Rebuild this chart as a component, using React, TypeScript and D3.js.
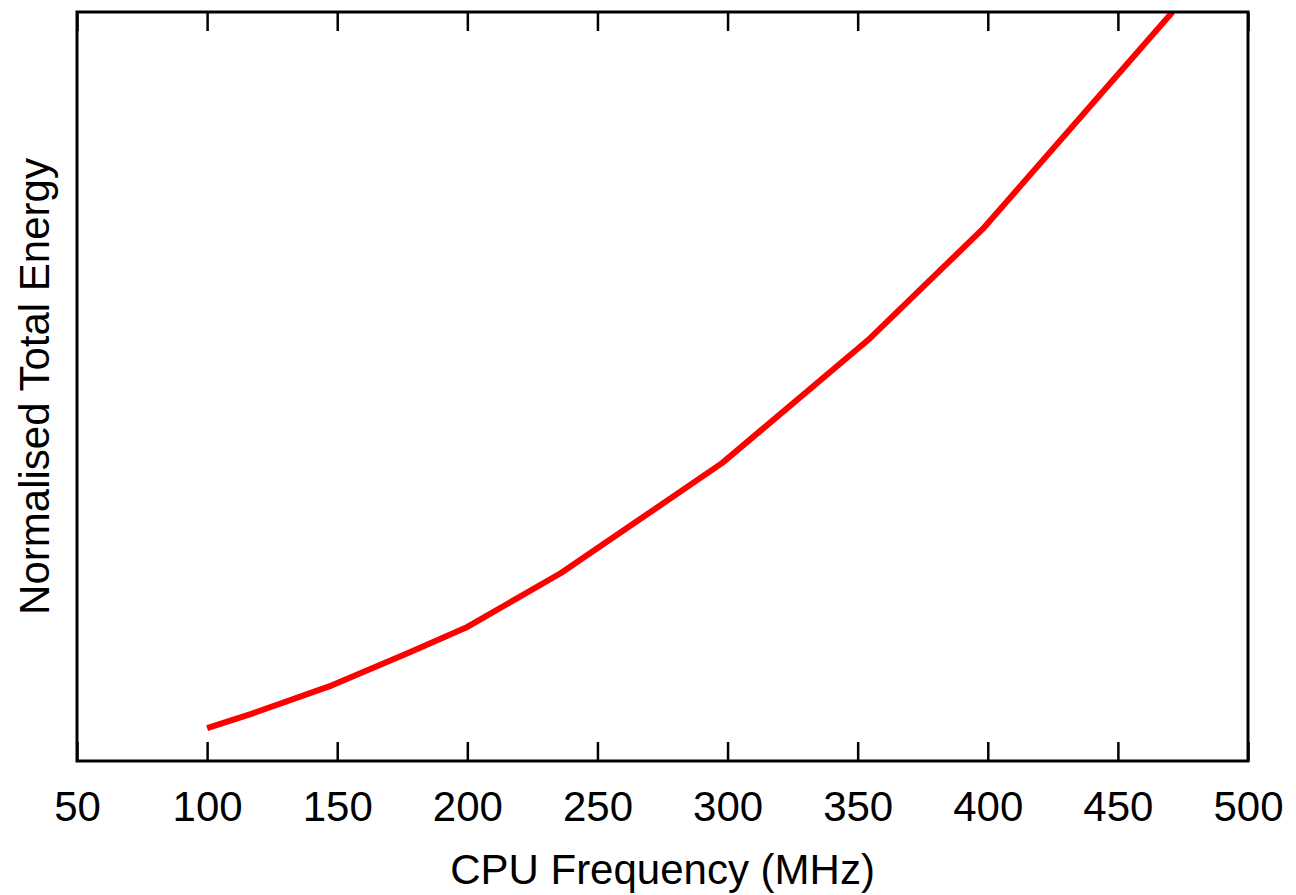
import React, { useEffect, useRef } from "react";
import * as d3 from "d3";

// frequency (MHz) and normalised energy
const freqs = [100, 117, 148, 177, 200, 236, 266, 298, 354, 398, 471];
const energy = [0.044, 0.063, 0.101, 0.144, 0.179, 0.251, 0.322, 0.398, 0.562, 0.71, 1.0];
const xTicks = [50, 100, 150, 200, 250, 300, 350, 400, 450, 500];

const W = 1296;
const H = 895;
const margin = { top: 12, right: 48, bottom: 134, left: 77 };

const App = () => {
  const ref = useRef<SVGSVGElement>(null);

  useEffect(() => {
    const svg = d3.select(ref.current);
    svg.selectAll("*").remove();

    const width = W - margin.left - margin.right;
    const height = H - margin.top - margin.bottom;
    const font = "'Liberation Sans', Arial, Helvetica, sans-serif";

    const x = d3.scaleLinear().domain([50, 500]).range([0, width]);
    const y = d3.scaleLinear().domain([0, 1]).range([height, 0]);

    const g = svg
      .append("g")
      .attr("transform", `translate(${margin.left},${margin.top})`);

    g.append("defs")
      .append("clipPath")
      .attr("id", "plot-clip")
      .append("rect")
      .attr("width", width)
      .attr("height", height);

    // the curve
    const data = freqs.map((f, i) => ({ f, e: energy[i] }));
    const line = d3
      .line<{ f: number; e: number }>()
      .x((d) => x(d.f))
      .y((d) => y(d.e));

    g.append("path")
      .datum(data)
      .attr("clip-path", "url(#plot-clip)")
      .attr("fill", "none")
      .attr("stroke", "#ff0000")
      .attr("stroke-width", 6)
      .attr("stroke-linejoin", "round")
      .attr("d", line);

    // bottom ticks (inward) + labels
    const bottom = g
      .append("g")
      .attr("transform", `translate(0,${height})`)
      .call(d3.axisBottom(x).tickValues(xTicks).tickSize(-19).tickPadding(30).tickFormat(d3.format("d")));
    bottom.select(".domain").remove();
    bottom.selectAll("line").attr("stroke", "#000").attr("stroke-width", 2.5);
    bottom
      .selectAll("text")
      .attr("font-family", font)
      .attr("font-size", 42)
      .attr("fill", "#000");

    // top mirror ticks
    const top = g
      .append("g")
      .call(d3.axisTop(x).tickValues(xTicks).tickSize(-19).tickFormat(() => ""));
    top.select(".domain").remove();
    top.selectAll("line").attr("stroke", "#000").attr("stroke-width", 2.5);

    // frame
    g.append("rect")
      .attr("width", width)
      .attr("height", height)
      .attr("fill", "none")
      .attr("stroke", "#000")
      .attr("stroke-width", 3);

    // X-axis label
    svg
      .append("text")
      .attr("x", margin.left + width / 2)
      .attr("y", 884)
      .attr("text-anchor", "middle")
      .attr("font-family", font)
      .attr("font-size", 42)
      .text("CPU Frequency (MHz)");

    // Y-axis label
    svg
      .append("text")
      .attr("transform", `translate(49,${margin.top + height / 2})rotate(-90)`)
      .attr("text-anchor", "middle")
      .attr("font-family", font)
      .attr("font-size", 42)
      .text("Normalised Total Energy");
  }, []);

  return (
    <svg
      ref={ref}
      width={W}
      height={H}
      style={{ position: "absolute", left: 0, top: 0, background: "#fff" }}
    />
  );
};

export default App;
